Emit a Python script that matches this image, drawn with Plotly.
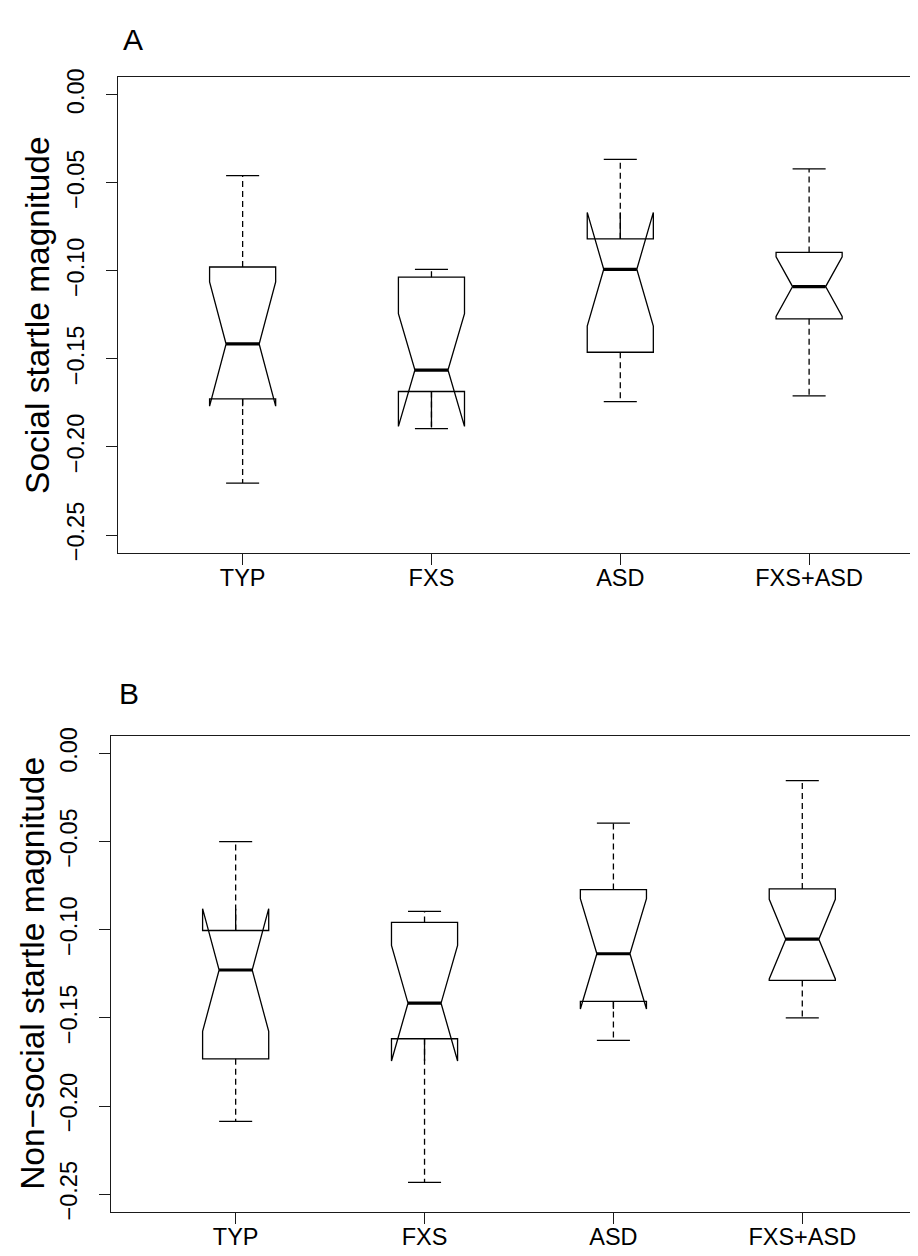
import plotly.graph_objects as go

# ---- data ----
categories = ["TYP", "FXS", "ASD", "FXS+ASD"]
positions = [1, 2, 3, 4]

# Panel A: Social startle magnitude
a_lower = [-0.2205, -0.1896, -0.1742, -0.1710]
a_q1 = [-0.1727, -0.1685, -0.1462, -0.1272]
a_median = [-0.1415, -0.1563, -0.0991, -0.1089]
a_q3 = [-0.0978, -0.1036, -0.0818, -0.0895]
a_upper = [-0.0459, -0.0991, -0.0367, -0.0421]
a_notch = [0.0353, 0.0320, 0.0323, 0.0169]

# Panel B: Non-social startle magnitude
b_lower = [-0.2086, -0.2432, -0.1627, -0.1500]
b_q1 = [-0.1732, -0.1618, -0.1406, -0.1287]
b_median = [-0.1228, -0.1416, -0.1136, -0.1053]
b_q3 = [-0.1004, -0.0958, -0.0772, -0.0768]
b_upper = [-0.0500, -0.0895, -0.0395, -0.0154]
b_notch = [0.0348, 0.0328, 0.0313, 0.0226]

y_ticks = [0.0, -0.05, -0.10, -0.15, -0.20, -0.25]

# ---- styling ----
W, H = 918, 1256
BOX_W = 0.35
FONT = "Liberation Sans, Arial, Helvetica, sans-serif"
TICK_SIZE = 23.5
LINE_C = "#1a1a1a"

fig = go.Figure()


def add_panel(lower, q1, med, q3, upper, notch, xa, ya):
    fig.add_trace(go.Box(
        x=positions, q1=q1, median=med, q3=q3,
        lowerfence=q1, upperfence=q3, notchspan=notch,
        notched=True, notchwidth=0.25, width=BOX_W, whiskerwidth=0,
        boxpoints=False, fillcolor="white",
        line=dict(color="black", width=1.3),
        xaxis=xa, yaxis=ya, hoverinfo="skip", showlegend=False,
    ))
    # dashed whiskers
    wx, wy = [], []
    for p, lo, a, b, up in zip(positions, lower, q1, q3, upper):
        wx += [p, p, None, p, p, None]
        wy += [b, up, None, a, lo, None]
    fig.add_trace(go.Scatter(
        x=wx, y=wy, mode="lines",
        line=dict(color="black", width=1.3, dash="6px,4px"),
        xaxis=xa, yaxis=ya, hoverinfo="skip", showlegend=False,
    ))
    # staples
    hw = BOX_W / 4
    sx, sy = [], []
    for p, lo, up in zip(positions, lower, upper):
        sx += [p - hw, p + hw, None, p - hw, p + hw, None]
        sy += [up, up, None, lo, lo, None]
    fig.add_trace(go.Scatter(
        x=sx, y=sy, mode="lines",
        line=dict(color="black", width=1.3),
        xaxis=xa, yaxis=ya, hoverinfo="skip", showlegend=False,
    ))
    # thick medians
    mx, my = [], []
    for p, m in zip(positions, med):
        mx += [p - hw, p + hw, None]
        my += [m, m, None]
    fig.add_trace(go.Scatter(
        x=mx, y=my, mode="lines",
        line=dict(color="black", width=3.2),
        xaxis=xa, yaxis=ya, hoverinfo="skip", showlegend=False,
    ))


add_panel(a_lower, a_q1, a_median, a_q3, a_upper, a_notch, "x", "y")
add_panel(b_lower, b_q1, b_median, b_q3, b_upper, b_notch, "x2", "y2")

common_x = dict(
    tickvals=positions, ticktext=categories, ticks="outside", ticklen=11,
    tickcolor=LINE_C, tickwidth=1.2, showline=True, linecolor=LINE_C,
    linewidth=1.3, mirror=True, showgrid=False, zeroline=False,
    tickfont=dict(family=FONT, size=TICK_SIZE, color="black"),
    ticklabelstandoff=-7,
)
common_y = dict(
    range=[-0.26, 0.01], tickvals=y_ticks, tickformat=".2f", tickangle=-90,
    ticks="outside", ticklen=11, tickcolor=LINE_C, tickwidth=1.2,
    showline=True, linecolor=LINE_C, linewidth=1.3, mirror=False,
    showgrid=False, zeroline=False,
    tickfont=dict(family=FONT, size=TICK_SIZE, color="black"),
    ticklabelstandoff=12,
)

fig.update_layout(
    width=W, height=H,
    margin=dict(l=0, r=0, t=0, b=0),
    paper_bgcolor="white", plot_bgcolor="white",
    showlegend=False,
    xaxis=dict(domain=[110 / W, 1], range=[0.34, 4.619], anchor="y", **common_x),
    yaxis=dict(domain=[1 - 543 / H, 1 - 61 / H], anchor="x", **common_y),
    xaxis2=dict(domain=[103 / W, 1], range=[0.34, 4.655], anchor="y2", **common_x),
    yaxis2=dict(domain=[1 - 1211.3 / H, 1 - 728.7 / H], anchor="x2", **common_y),
    annotations=[
        dict(text="Social startle magnitude", x=30 / W, y=1 - 302 / H,
             xref="paper", yref="paper", xanchor="center", yanchor="middle",
             textangle=-90, showarrow=False,
             font=dict(family=FONT, size=33.5, color="black")),
        dict(text="Non\u2212social startle magnitude", x=25 / W, y=1 - 970 / H,
             xref="paper", yref="paper", xanchor="center", yanchor="middle",
             textangle=-90, showarrow=False,
             font=dict(family=FONT, size=33.5, color="black")),
        dict(text="A", x=124.7 / W, y=1 - 22.5 / H, xref="paper", yref="paper",
             xanchor="center", yanchor="middle", showarrow=False,
             font=dict(family=FONT, size=30, color="black")),
        dict(text="B", x=121 / W, y=1 - 686 / H, xref="paper", yref="paper",
             xanchor="center", yanchor="middle", showarrow=False,
             font=dict(family=FONT, size=30, color="black")),
    ],
)

fig.write_html("out.html")
